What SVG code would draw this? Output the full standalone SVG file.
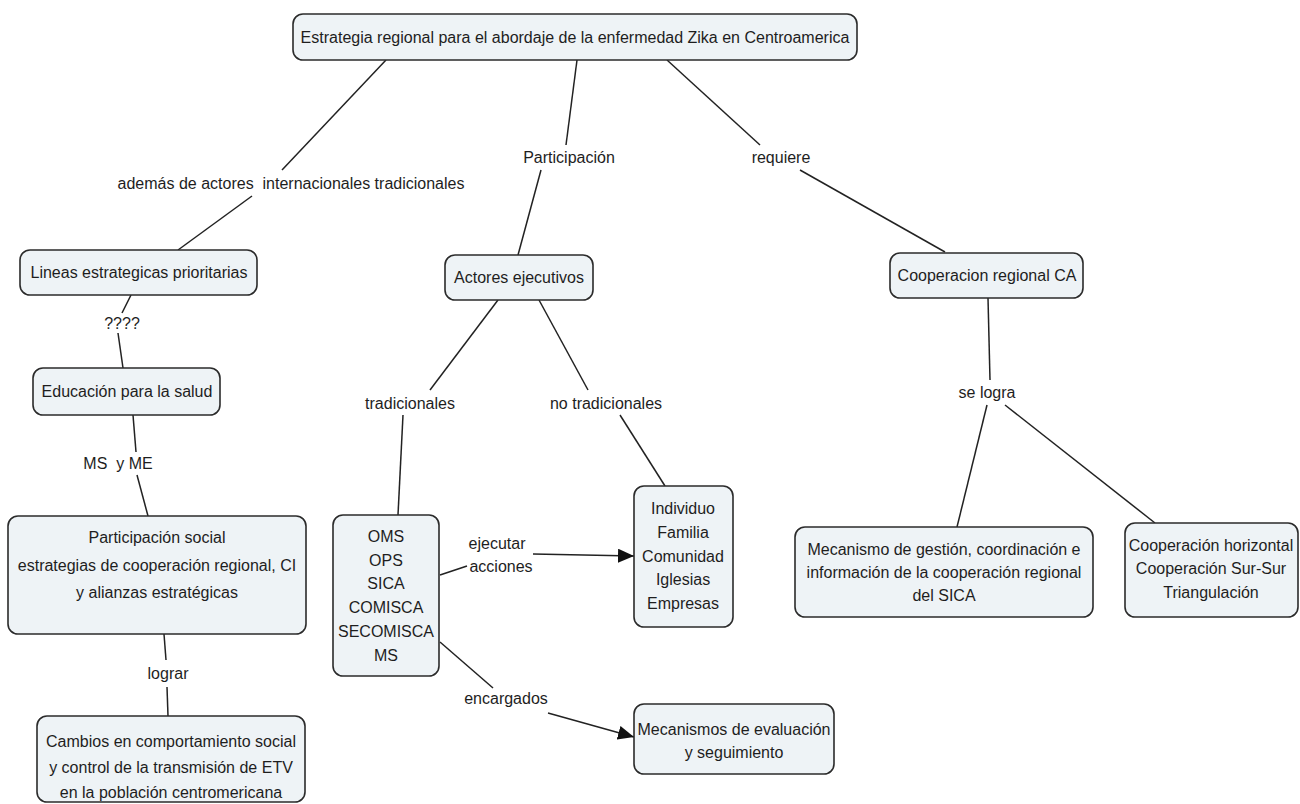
<svg xmlns="http://www.w3.org/2000/svg" width="1300" height="804" viewBox="0 0 1300 804">
<style>
.n rect{fill:#eef3f6;stroke:#2b2b2b;stroke-width:1.6}
text{font-family:"Liberation Sans",Arial,sans-serif;font-size:16px;fill:#1e1e1e;text-anchor:middle;dominant-baseline:central;white-space:pre}
.c line{stroke:#222;stroke-width:1.5}
</style>
<defs>
<marker id="ah" viewBox="0 0 16 14" refX="16" refY="7" markerWidth="16" markerHeight="14" markerUnits="userSpaceOnUse" orient="auto">
<path d="M0,0 L16,7 L0,14 Z" fill="#111"/>
</marker>
</defs>
<rect width="1300" height="804" fill="#fff"/>
<g class="c" id="connectors">
<line x1="386" y1="60" x2="282" y2="170"/>
<line x1="252" y1="196" x2="178" y2="250"/>
<line x1="577" y1="60" x2="566" y2="145"/>
<line x1="541" y1="170" x2="518" y2="255"/>
<line x1="667" y1="60" x2="760" y2="145"/>
<line x1="800" y1="170" x2="945" y2="252"/>
<line x1="131" y1="295" x2="122" y2="313"/>
<line x1="118" y1="333" x2="123" y2="368"/>
<line x1="133" y1="415" x2="136" y2="452"/>
<line x1="137" y1="475" x2="148" y2="516"/>
<line x1="164" y1="634" x2="166" y2="660"/>
<line x1="167" y1="687" x2="168" y2="716"/>
<line x1="498" y1="300" x2="430" y2="390"/>
<line x1="403" y1="415" x2="398" y2="515"/>
<line x1="539" y1="300" x2="588" y2="390"/>
<line x1="620" y1="415" x2="665" y2="486"/>
<line x1="440" y1="575" x2="467" y2="566"/>
<line x1="533" y1="554" x2="634" y2="556" marker-end="url(#ah)"/>
<line x1="440" y1="642" x2="493" y2="688"/>
<line x1="548" y1="713" x2="634" y2="737" marker-end="url(#ah)"/>
<line x1="988" y1="298" x2="990" y2="380"/>
<line x1="987" y1="405" x2="957" y2="527"/>
<line x1="1005" y1="405" x2="1155" y2="523"/>
</g>
<g id="labels">
<text x="291" y="183">además de actores  internacionales tradicionales</text>
<text x="569" y="157">Participación</text>
<text x="781" y="157">requiere</text>
<text x="122" y="323">????</text>
<text x="118" y="463">MS  y ME</text>
<text x="168" y="673">lograr</text>
<text x="410" y="403">tradicionales</text>
<text x="606" y="403">no tradicionales</text>
<text x="497" y="543">ejecutar</text>
<text x="501" y="566">acciones</text>
<text x="506" y="698">encargados</text>
<text x="987" y="392">se logra</text>
</g>
<g class="n" id="n-top"><rect x="293" y="14" width="564" height="46" rx="10"/><text x="575" y="37">Estrategia regional para el abordaje de la enfermedad Zika en Centroamerica</text></g>
<g class="n" id="n-lineas"><rect x="20" y="250" width="237" height="45" rx="10"/><text x="139" y="272">Lineas estrategicas prioritarias</text></g>
<g class="n" id="n-actores"><rect x="445" y="255" width="148" height="45" rx="10"/><text x="519" y="277">Actores ejecutivos</text></g>
<g class="n" id="n-coop"><rect x="890" y="253" width="193" height="45" rx="10"/><text x="987" y="275">Cooperacion regional CA</text></g>
<g class="n" id="n-educ"><rect x="33" y="368" width="187" height="47" rx="10"/><text x="127" y="391">Educación para la salud</text></g>
<g class="n" id="n-partic"><rect x="8" y="516" width="298" height="118" rx="10"/><text x="157" y="537">Participación social</text><text x="157" y="565">estrategias de cooperación regional, CI</text><text x="157" y="592">y alianzas estratégicas</text></g>
<g class="n" id="n-cambios"><rect x="37" y="716" width="268" height="86" rx="10"/><text x="171" y="741">Cambios en comportamiento social</text><text x="171" y="767">y control de la transmisión de ETV</text><text x="171" y="792">en la población centromericana</text></g>
<g class="n" id="n-oms"><rect x="333" y="515" width="106" height="161" rx="10"/><text x="386" y="536">OMS</text><text x="386" y="560">OPS</text><text x="386" y="583">SICA</text><text x="386" y="607">COMISCA</text><text x="386" y="631">SECOMISCA</text><text x="386" y="655">MS</text></g>
<g class="n" id="n-individuo"><rect x="634" y="486" width="99" height="141" rx="10"/><text x="683" y="508">Individuo</text><text x="683" y="532">Familia</text><text x="683" y="556">Comunidad</text><text x="683" y="579">Iglesias</text><text x="683" y="603">Empresas</text></g>
<g class="n" id="n-mecev"><rect x="634" y="704" width="200" height="70" rx="10"/><text x="734" y="729">Mecanismos de evaluación</text><text x="734" y="752">y seguimiento</text></g>
<g class="n" id="n-mecgest"><rect x="795" y="527" width="298" height="90" rx="10"/><text x="944" y="549">Mecanismo de gestión, coordinación e</text><text x="944" y="572">información de la cooperación regional</text><text x="944" y="595">del SICA</text></g>
<g class="n" id="n-horiz"><rect x="1125" y="523" width="173" height="94" rx="10"/><text x="1211" y="545">Cooperación horizontal</text><text x="1211" y="568">Cooperación Sur-Sur</text><text x="1211" y="592">Triangulación</text></g>
</svg>
